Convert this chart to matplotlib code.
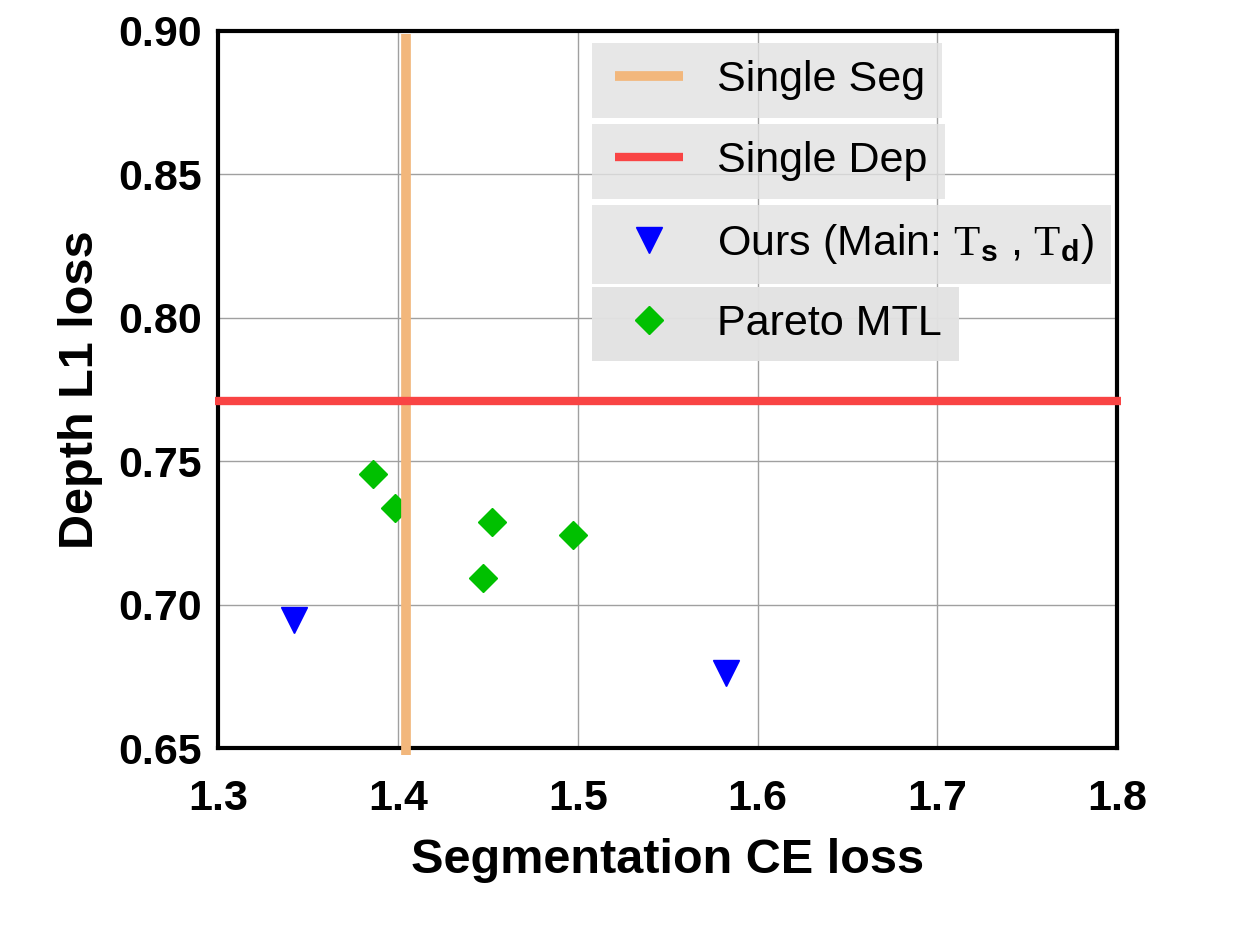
import numpy as np
import matplotlib
matplotlib.use("Agg")
import matplotlib.pyplot as plt
from matplotlib.lines import Line2D
from matplotlib.legend_handler import HandlerLine2D

plt.rcParams['font.family'] = ['Liberation Sans', 'DejaVu Sans']
plt.rcParams['mathtext.fontset'] = 'custom'
plt.rcParams['mathtext.rm'] = 'Liberation Serif'
plt.rcParams['mathtext.bf'] = 'Liberation Sans:bold'

# single-task baselines
single_seg = 1.4046
single_dep = 0.771

# ours (main tasks T_s, T_d)
ours_seg = [1.3423, 1.5825]
ours_dep = [0.6946, 0.6762]

# Pareto MTL
pareto_seg = [1.3862, 1.3984, 1.4524, 1.4974, 1.4474]
pareto_dep = [0.7455, 0.7337, 0.7288, 0.7243, 0.7093]

xticks = [1.3, 1.4, 1.5, 1.6, 1.7, 1.8]
yticks = [0.65, 0.70, 0.75, 0.80, 0.85, 0.90]

seg_color = '#f2b77c'
dep_color = '#f94444'

fig = plt.figure(figsize=(12.54, 9.27), dpi=100)
ax = fig.add_axes([0.174, 0.193, 0.717, 0.7737])

ax.plot(ours_seg, ours_dep, 'v', color='#0000ff', markersize=19, linestyle='none', zorder=3)
ax.plot(pareto_seg, pareto_dep, 'D', color='#00c000', markersize=14, linestyle='none', zorder=3)
ax.axvline(single_seg, ymin=-0.009, ymax=0.995, color=seg_color, lw=7, zorder=4,
           clip_on=False, solid_capstyle='butt')
ax.axhline(single_dep, xmin=-0.004, xmax=1.004, color=dep_color, lw=6, zorder=4,
           clip_on=False, solid_capstyle='butt')

ax.set_xlim(1.3, 1.8)
ax.set_ylim(0.65, 0.90)
ax.set_xticks(xticks)
ax.set_yticks(yticks)
ax.set_xticklabels(['%.1f' % t for t in xticks])
ax.set_yticklabels(['%.2f' % t for t in yticks])
ax.tick_params(length=0, labelsize=31)
ax.tick_params(axis='x', pad=22)
ax.tick_params(axis='y', pad=12)
for lab in ax.get_xticklabels() + ax.get_yticklabels():
    lab.set_fontweight('bold')
ax.grid(True, color='#a0a0a0', lw=1)
for s in ax.spines.values():
    s.set_linewidth(3)
    s.set_zorder(3.5)

ax.set_xlabel('Segmentation CE loss', fontsize=35, fontweight='bold', labelpad=14)
ax.set_ylabel('Depth L1 loss', fontsize=35, fontweight='bold', labelpad=11)

entries = [
    (Line2D([], [], color=seg_color, lw=7, solid_capstyle='butt'), 'Single Seg', 0.983),
    (Line2D([], [], color=dep_color, lw=6, solid_capstyle='butt'), 'Single Dep', 0.870),
    (Line2D([], [], marker='v', color='#0000ff', markersize=19, linestyle='none'),
     r'Ours (Main: $\mathrm{T}_{\mathbf{s}}$ , $\mathrm{T}_{\mathbf{d}}$)', 0.757),
    (Line2D([], [], marker='D', color='#00c000', markersize=14, linestyle='none'), 'Pareto MTL', 0.643),
]
for h, lab, top in entries:
    leg = ax.legend([h], [lab], loc='upper left', bbox_to_anchor=(0.416, top),
                    borderaxespad=0, fontsize=31, fancybox=False, handlelength=1.7,
                    handletextpad=0.8, borderpad=0.4, framealpha=0.8,
                    handler_map={Line2D: HandlerLine2D(xpad=0.12)})
    leg.get_frame().set_facecolor('#e2e2e2')
    leg.get_frame().set_edgecolor('none')
    ax.add_artist(leg)

fig.savefig('out.png', dpi=100)
